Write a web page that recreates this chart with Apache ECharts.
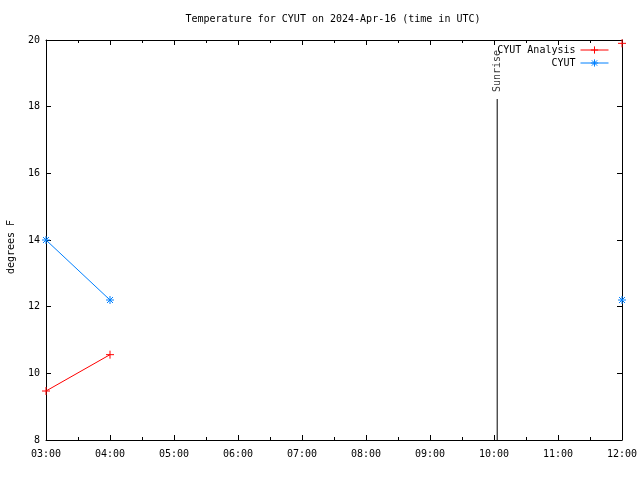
<!DOCTYPE html>
<html><head><meta charset="utf-8">
<script src="https://cdn.jsdelivr.net/npm/echarts@6/dist/echarts.min.js"></script>
<style>html,body{margin:0;padding:0;background:#fff}#c{width:640px;height:480px}</style>
</head><body><div id="c"></div>
<script>
// ---- data ----
const times = ['03:00','04:00','05:00','06:00','07:00','08:00','09:00','10:00','11:00','12:00'];
const analysisValues = [9.47, 10.56, null, null, null, null, null, null, null, 19.9];
const obsValues = [14.0, 12.2, null, null, null, null, null, null, null, 12.2];
const xTickLabels = ['03:00','04:00','05:00','06:00','07:00','08:00','09:00','10:00','11:00','12:00'];
const yTickValues = [8, 10, 12, 14, 16, 18, 20];
const sunriseTime = '10:03';
const sunriseBottom = 8;
const sunriseTop = 18.23;
const sunriseLabelY = 19.07;
const titleText = 'Temperature for CYUT on 2024-Apr-16 (time in UTC)';
const yAxisTitle = 'degrees F';

// ---- helpers ----
const FONT = 'DejaVu Sans Mono';
function toHours(t){ const p = t.split(':'); return +p[0] + (+p[1])/60; }
const xs = times.map(toHours);
const xMin = xs[0], xMax = xs[xs.length-1];
const analysisData = xs.map((x,i)=>[x, analysisValues[i]]);
const obsData = xs.map((x,i)=>[x, obsValues[i]]);
const sunX = toHours(sunriseTime);

const RED = '#ff0000', BLUE = '#0080ff';
const plusPath = 'path://M0,4L8,4M4,0L4,8';
const starPath = 'path://M0,4L8,4M4,0L4,8M1,1L7,7M1,7L7,1';

const tickFmt = v => xTickLabels[Math.round(v - xMin)] || '';

const xAxisBase = {
  type: 'value', min: xMin, max: xMax, interval: 1,
  axisLine: {show: true, lineStyle: {color: '#000', width: 1}},
  axisTick: {show: true, inside: true, length: 5, lineStyle: {color: '#000'}},
  minorTick: {show: true, splitNumber: 2, length: 3, lineStyle: {color: '#000'}},
  splitLine: {show: false}
};
const yAxisBase = {
  type: 'value', min: yTickValues[0], max: yTickValues[yTickValues.length-1], interval: 2,
  axisLine: {show: true, lineStyle: {color: '#000', width: 1}},
  axisTick: {show: true, inside: true, length: 5, lineStyle: {color: '#000'}},
  splitLine: {show: false}
};
const legendBase = {
  right: 31, orient: 'vertical', align: 'right', padding: 0,
  itemWidth: 28, itemHeight: 9, itemGap: 4,
  lineStyle: {width: 1},
  itemStyle: {borderWidth: 1},
  textStyle: {fontFamily: FONT, fontSize: 10, color: '#000'}
};

const chart = echarts.init(document.getElementById('c'), null, {renderer: 'canvas'});
chart.setOption({
  animation: false,
  backgroundColor: '#fff',
  textStyle: {fontFamily: FONT},
  grid: {left: 46, right: 18, top: 40, bottom: 40, outerBoundsMode: 'none', containLabel: false},
  graphic: [{
    type: 'text', x: 333, y: 19,
    style: {text: titleText, font: '10px "DejaVu Sans Mono"', fill: '#000', textAlign: 'center', textVerticalAlign: 'middle'}
  }, {
    type: 'text', x: 11, y: 247, rotation: Math.PI / 2,
    style: {text: yAxisTitle, font: '10px "DejaVu Sans Mono"', fill: '#000', textAlign: 'center', textVerticalAlign: 'middle'}
  }],
  legend: [
    Object.assign({}, legendBase, {data: ['CYUT Analysis'], top: 45}),
    Object.assign({}, legendBase, {data: ['CYUT'], top: 58})
  ],
  xAxis: [
    Object.assign({}, xAxisBase, {position: 'bottom',
      axisLabel: {show: true, formatter: tickFmt, margin: 9, color: '#000', fontFamily: FONT, fontSize: 10}}),
    Object.assign({}, xAxisBase, {position: 'top', axisLabel: {show: false}})
  ],
  yAxis: [
    Object.assign({}, yAxisBase, {position: 'left',
      axisLabel: {show: true, margin: 6, color: '#000', fontFamily: FONT, fontSize: 10}}),
    Object.assign({}, yAxisBase, {position: 'right', axisLabel: {show: false}})
  ],
  series: [
    {
      name: 'CYUT Analysis', type: 'line', data: analysisData, connectNulls: false,
      symbol: plusPath, symbolSize: 8, showSymbol: true, clip: false,
      lineStyle: {color: RED, width: 1},
      itemStyle: {color: RED, borderColor: RED, borderWidth: 1}
    },
    {
      name: 'CYUT', type: 'line', data: obsData, connectNulls: false,
      symbol: starPath, symbolSize: 8, showSymbol: true, clip: false,
      lineStyle: {color: BLUE, width: 1},
      itemStyle: {color: BLUE, borderColor: BLUE, borderWidth: 1}
    },
    {
      name: 'sunrise', type: 'line', data: [[sunX, sunriseBottom], [sunX, sunriseTop]],
      symbol: 'none', lineStyle: {color: '#000', width: 1}, silent: true
    },
    {
      name: 'sunriseLabel', type: 'scatter', data: [[sunX, sunriseLabelY]],
      symbolSize: 1, itemStyle: {color: 'rgba(0,0,0,0)'}, silent: true,
      label: {show: true, formatter: 'Sunrise', rotate: 90, position: 'inside',
        color: '#000', textBorderWidth: 0, fontFamily: FONT, fontSize: 10}
    }
  ]
});
</script>
</body></html>
